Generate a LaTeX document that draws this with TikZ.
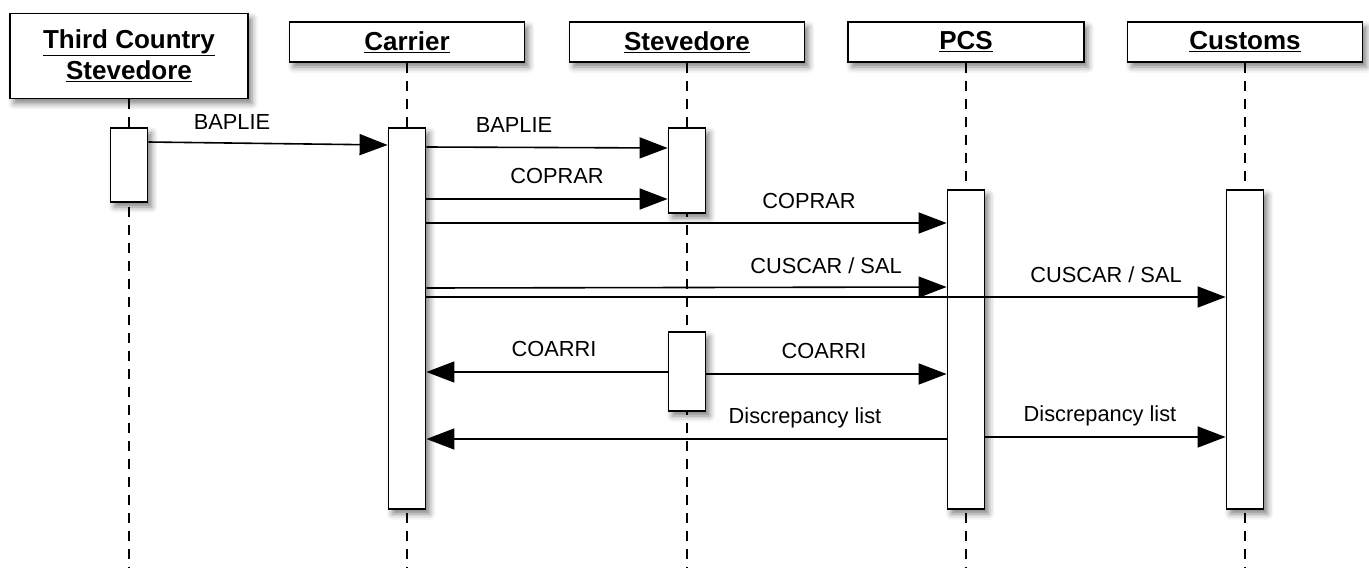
\documentclass[tikz,border=0pt]{standalone}
\usepackage{fontspec}
\setmainfont{Liberation Sans}
\usetikzlibrary{arrows.meta,shadows.blur}
\newcommand{\hdr}[1]{\underline{#1}}
\begin{document}
\begin{tikzpicture}[x=1pt,y=-1pt,
  shadowed/.style={blur shadow={shadow xshift=4pt,shadow yshift=-5pt,shadow blur radius=6pt,shadow opacity=50}},
  head/.style={draw,line width=1.8pt,fill=white,shadowed,inner sep=0pt,
    font=\fontsize{26}{31}\selectfont\bfseries,align=center},
  act/.style={draw,line width=1.8pt,fill=white,shadowed,inner sep=0pt,minimum width=37pt,anchor=north},
  life/.style={line width=1.5pt,dash pattern=on 10pt off 8pt},
  msg/.style={line width=1.6pt,-{Triangle[length=28pt,width=21pt]}},
  lbl/.style={font=\fontsize{21.8}{26}\selectfont,anchor=base}]
\useasboundingbox (0,0) rectangle (1369,568);

% participants
\node[head,minimum width=238pt,minimum height=85pt] (tcs) at (129,56) {\hdr{Third Country}\\\hdr{Stevedore}};
\node[head,minimum width=235pt,minimum height=40pt] (car) at (407,42) {\hdr{Carrier}};
\node[head,minimum width=235pt,minimum height=40pt] (ste) at (687,42) {\hdr{Stevedore}};
\node[head,minimum width=236pt,minimum height=40pt] (pcs) at (966,42) {\hdr{PCS}};
\node[head,minimum width=235pt,minimum height=40pt] (cus) at (1245,42) {\hdr{Customs}};

% lifelines
\coordinate (tcsE) at (129,568);
\coordinate (carE) at (407,568);
\coordinate (steE) at (687,568);
\coordinate (pcsE) at (966,568);
\coordinate (cusE) at (1245,568);
\draw[life] (tcs.south) -- (tcsE);
\draw[life] (car.south) -- (carE);
\draw[life] (ste.south) -- (steE);
\draw[life] (pcs.south) -- (pcsE);
\draw[life] (cus.south) -- (cusE);

% activations
\node[act,minimum height=74pt] (atcs) at (129,127) {};
\node[act,minimum height=381pt] (acar) at (407,127) {};
\node[act,minimum height=85pt] (aste1) at (687,127) {};
\node[act,minimum height=79pt] (aste2) at (687,331) {};
\node[act,minimum height=319pt] (apcs) at (966,189) {};
\node[act,minimum height=319pt] (acus) at (1245,189) {};

% messages
\draw[msg] (atcs.east |- 0,142) -- (acar.west |- 0,145);
\node[lbl] (l1) at (232,129) {BAPLIE};
\draw[msg] (acar.east |- 0,147) -- (aste1.west |- 0,148);
\node[lbl] (l2) at (514,132) {BAPLIE};
\draw[msg] (acar.east |- 0,199) -- (aste1.west |- 0,199);
\node[lbl] (l3) at (557,183) {COPRAR};
\draw[msg] (acar.east |- 0,223) -- (apcs.west |- 0,223);
\node[lbl] (l4) at (809,208) {COPRAR};
\draw[msg] (acar.east |- 0,288) -- (apcs.west |- 0,287);
\node[lbl] (l5) at (826,273) {CUSCAR / SAL};
\draw[msg] (acar.east |- 0,297) -- (acus.west |- 0,297);
\node[lbl] (l6) at (1106,282) {CUSCAR / SAL};
\draw[msg] (aste2.west |- 0,372) -- (acar.east |- 0,372);
\node[lbl] (l7) at (554,356) {COARRI};
\draw[msg] (aste2.east |- 0,374) -- (apcs.west |- 0,374);
\node[lbl] (l8) at (824,358) {COARRI};
\draw[msg] (apcs.west |- 0,439) -- (acar.east |- 0,439);
\node[lbl] (l9) at (805,423) {Discrepancy list};
\draw[msg] (apcs.east |- 0,437) -- (acus.west |- 0,437);
\node[lbl] (l10) at (1100,421) {Discrepancy list};
\end{tikzpicture}
\end{document}
